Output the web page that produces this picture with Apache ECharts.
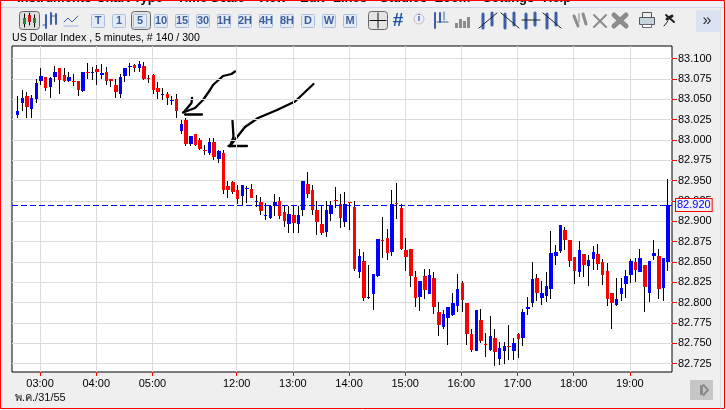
<!DOCTYPE html>
<html>
<head>
<meta charset="utf-8">
<style>html,body{margin:0;padding:0;background:#efefef}#chart{width:726px;height:410px}</style>
<script src="https://cdn.jsdelivr.net/npm/echarts@6/dist/echarts.min.js"></script>
</head>
<body>
<div id="chart"></div>
<script>
// candles, oldest first (blue = up, red = down)
const opens = [83.030,83.045,83.054,83.038,83.050,83.072,83.077,83.065,83.077,83.088,83.080,83.072,83.072,83.072,83.060,83.083,83.083,83.087,83.080,83.083,83.075,83.068,83.057,83.078,83.089,83.092,83.088,83.091,83.076,83.080,83.064,83.055,83.057,83.048,83.050,
  83.011,83.024,82.995,83.007,83.000,82.988,82.984,82.998,82.976,82.984,82.943,82.948,82.938,82.931,82.9405,82.940,82.924,82.924,82.907,82.904,82.919,82.925,82.911,82.897,82.908,82.897,82.914,82.946,82.938,82.914,82.897,82.887,82.909,82.926,82.921,82.899,82.924,
  82.917,82.838,82.851,82.806,82.810,82.833,82.8765,82.879,82.862,82.923,82.916,82.865,82.866,82.832,82.807,82.833,82.811,82.830,82.789,82.770,82.781,82.785,82.796,82.824,82.800,82.761,82.741,82.779,82.749,82.742,82.756,82.731,82.741,82.747,82.741,82.761,82.757,82.792,82.799,82.830,82.806,82.808,82.817,82.857,82.864,82.889,82.877,82.856,82.838,82.860,82.845,82.854,82.860,82.850,82.839,82.812,82.797,82.811,82.823,82.834,82.850,82.838,82.846,82.812,82.857,82.857,82.818,82.850];
const closes = [83.035,83.052,83.040,83.052,83.070,83.078,83.064,83.076,83.084,83.073,83.072,83.077,83.071,83.061,83.083,83.082,83.084,83.083,83.082,83.072,83.072,83.059,83.077,83.088,83.091,83.088,83.093,83.075,83.075,83.061,83.059,83.056,83.052,83.049,83.036,
  83.020,82.995,83.005,82.994,82.989,82.986,82.997,82.979,82.986,82.939,82.939,82.936,82.927,82.945,82.941,82.929,82.925,82.913,82.908,82.919,82.924,82.906,82.900,82.909,82.898,82.908,82.949,82.934,82.914,82.899,82.886,82.914,82.920,82.925,82.904,82.921,82.923,
  82.841,82.857,82.806,82.807,82.835,82.878,82.8755,82.861,82.921,82.922,82.866,82.856,82.833,82.806,82.826,82.815,82.834,82.794,82.772,82.786,82.795,82.799,82.817,82.803,82.762,82.742,82.791,82.753,82.748,82.759,82.739,82.744,82.747,82.745,82.750,82.755,82.789,82.795,82.829,82.812,82.812,82.821,82.861,82.862,82.895,82.877,82.851,82.839,82.865,82.846,82.852,82.862,82.848,82.834,82.805,82.800,82.804,82.818,82.833,82.851,82.840,82.855,82.819,82.851,82.861,82.817,82.855,82.920];
const lows = [83.027,83.036,83.027,83.027,83.045,83.067,83.060,83.052,83.071,83.056,83.071,83.071,83.066,83.054,83.059,83.075,83.073,83.068,83.075,83.068,83.065,83.051,83.052,83.071,83.078,83.083,83.083,83.073,83.070,83.057,83.050,83.049,83.043,83.043,83.027,
  83.007,82.993,82.993,82.993,82.988,82.981,82.981,82.975,82.972,82.934,82.929,82.934,82.921,82.920,82.923,82.929,82.918,82.908,82.902,82.903,82.907,82.903,82.893,82.885,82.885,82.885,82.907,82.929,82.908,82.883,82.883,82.881,82.900,82.9165,82.892,82.893,82.889,
  82.839,82.830,82.802,82.805,82.791,82.832,82.855,82.852,82.857,82.903,82.865,82.839,82.819,82.794,82.790,82.804,82.810,82.786,82.759,82.767,82.748,82.784,82.788,82.788,82.748,82.739,82.740,82.750,82.733,82.740,82.722,82.723,82.724,82.729,82.729,82.732,82.747,82.785,82.794,82.802,82.797,82.801,82.804,82.846,82.861,82.865,82.844,82.823,82.832,82.832,82.821,82.840,82.840,82.822,82.796,82.767,82.796,82.802,82.806,82.824,82.825,82.837,82.789,82.801,82.852,82.805,82.802,82.839];
const highs = [83.054,83.061,83.059,83.055,83.075,83.088,83.077,83.077,83.091,83.088,83.088,83.084,83.081,83.072,83.083,83.094,83.089,83.092,83.093,83.089,83.075,83.075,83.081,83.088,83.094,83.093,83.097,83.096,83.080,83.081,83.071,83.064,83.059,83.054,83.056,
  83.025,83.027,83.005,83.007,83.002,82.994,83.002,83.002,82.988,82.988,82.950,82.950,82.944,82.945,82.943,82.946,82.932,82.930,82.922,82.920,82.934,82.930,82.919,82.919,82.919,82.919,82.949,82.961,82.945,82.925,82.919,82.925,82.925,82.942,82.934,82.936,82.924,
  82.925,82.866,82.862,82.846,82.835,82.878,82.905,82.890,82.939,82.947,82.921,82.879,82.866,82.839,82.827,82.841,82.841,82.837,82.801,82.791,82.795,82.812,82.835,82.827,82.800,82.767,82.791,82.792,82.763,82.784,82.767,82.752,82.752,82.772,82.757,82.763,82.792,82.807,82.850,82.835,82.827,82.838,82.888,82.871,82.895,82.893,82.877,82.856,82.876,82.860,82.859,82.870,82.872,82.854,82.849,82.812,82.830,82.830,82.840,82.854,82.855,82.866,82.846,82.851,82.877,82.866,82.855,82.952];

const hourLabels = ['03:00','04:00','05:00','12:00','13:00','14:00','15:00','16:00','17:00','18:00','19:00'];
const hourCandle = [5,17,29,47,59,71,83,95,107,119,131]; // which candle sits on each hour
const priceTicks = [83.1,83.075,83.05,83.025,83,82.975,82.95,82.925,82.9,82.875,82.85,82.825,82.8,82.775,82.75,82.725];
const lastPrice = 82.92;
const titleText = 'US Dollar Index , 5 minutes, # 140 / 300';
const dateText = 'พ.ค./31/55';
const menuItems = [['Instruments',17],['Chart Type',96],['Time Scale',177],['View',257],['Edit',300],['Lines',333],['Studies',380],['Zoom',435],['Settings',483],['Help',543]];
const periodButtons = ['T','1','5','10','15','30','1H','2H','4H','8H','D','W','M'];

// one empty slot each side so the first and last candle stay off the frame
const categories = ['', ...opens.map(() => ''), ''];
hourCandle.forEach((k, i) => { categories[k + 1] = hourLabels[i]; });
const candles = opens.map((o, k) => [k + 1, o, closes[k], lows[k], highs[k]]);
const isHour = (i, v) => v !== '';

function renderCandle(params, api) {
  const xf = api.coord([api.value(0), 0])[0] + 0.15;
  const x = Math.round(xf);
  const o = api.value(1), c = api.value(2);
  const yHigh = Math.round(api.coord([0, api.value(4)])[1]);
  const yLow = Math.round(api.coord([0, api.value(3)])[1]);
  const yTop = Math.round(api.coord([0, Math.max(o, c)])[1]);
  const yBot = Math.round(api.coord([0, Math.min(o, c)])[1]);
  // bodies come out 3 or 4 px wide depending on where the candle falls
  const bodyW = Math.round(xf + 1.5) - x + 2;
  return {
    type: 'group',
    children: [
      { type: 'rect', shape: { x: x, y: yHigh, width: 1, height: Math.max(yLow - yHigh, 1) }, style: { fill: '#000' } },
      { type: 'rect', shape: { x: x - 1, y: yTop, width: bodyW, height: Math.max(yBot - yTop, 1) }, style: { fill: c >= o ? '#0000ff' : '#ff0000' } }
    ]
  };
}

// small drawing helpers for the toolbar and the pen marks
const ln = (pts, color, w) => ({ type: 'polyline', shape: { points: pts }, style: { stroke: color, lineWidth: w || 1, fill: null, lineCap: 'round', lineJoin: 'round' } });
const box = (x, y, w, h, fill, stroke, r) => ({ type: 'rect', shape: { x, y, width: w, height: h, r: r || 0 }, style: { fill: fill, stroke: stroke || null, lineWidth: 1 } });
const txt = (x, y, s, font, color, align) => ({ type: 'text', x, y, style: { text: s, font: font, fill: color, align: align || 'center', verticalAlign: 'middle' } });

const BLUE = '#3c5fa8', GREY = '#8c8c8c';
const gfx = [];
gfx.push(box(0.5, 0.5, 725, 7, '#f1f1f8'), ln([[1, 7.5], [724, 7.5]], '#d4d4e6'));
menuItems.forEach(m => gfx.push({ type: 'text', x: m[1], y: 5, style: { text: m[0], font: 'bold 13px "Liberation Sans"', fill: '#111', verticalAlign: 'bottom' } }));

// chart type buttons
gfx.push(box(19.5, 11.5, 20, 18, '#dedede', '#666', 3));
gfx.push(ln([[24.5, 14], [24.5, 27]], '#000'), box(23, 18, 3, 6, '#1f8a3a'), ln([[29.5, 13], [29.5, 25]], '#000'), box(28, 15, 3, 7, '#d01818'), ln([[34.5, 15], [34.5, 27]], '#000'), box(33, 18, 3, 5, '#1f8a3a'));
gfx.push(ln([[46, 15], [46, 28]], BLUE, 2), ln([[43, 25], [46, 25]], BLUE), ln([[51, 13], [51, 24]], BLUE, 2), ln([[51, 16], [56, 16]], BLUE), ln([[56, 14], [56, 24]], BLUE, 2));
gfx.push(ln([[64, 22], [68, 18], [72, 22], [78, 16]], BLUE, 1), ln([[64, 26], [78, 26]], '#9fb6d8'));

// period buttons
periodButtons.forEach((b, i) => {
  const cx = 98 + i * 21;
  if (b === '5') gfx.push(box(131.5, 11.5, 19, 18, '#e4e4e4', '#666', 3));
  gfx.push(box(cx - 6.5, 14.5, 13, 13, '#e3ebf6', '#a9bfdc', 1));
  gfx.push(txt(cx, 21, b, 'bold 11px "Liberation Sans"', '#3f5f98'));
});

// crosshair, grid and the other tool icons
gfx.push(box(368.5, 11.5, 19, 18, '#e4e4e4', '#666', 3), ln([[378, 13], [378, 28]], '#111'), ln([[370, 20.5], [386, 20.5]], '#111'));
gfx.push(txt(398, 21, '#', 'bold 19px "Liberation Sans"', '#1c4fa8'));
gfx.push({ type: 'circle', shape: { cx: 419, cy: 19, r: 5 }, style: { fill: '#eef', stroke: '#c0c0c0' } }, txt(419, 19, 'i', 'bold 9px "Liberation Sans"', '#2a55c0'));
gfx.push(ln([[435, 13], [435, 28]], BLUE, 2), ln([[440, 13], [440, 22]], BLUE, 2), ln([[437, 22], [448, 22]], BLUE, 1), ln([[444, 12], [444, 20]], BLUE, 1));
[455, 459, 463, 467].forEach((x, i) => gfx.push(box(x, [23, 19, 21, 17][i], 3, [5, 9, 7, 11][i], GREY)));
[[488, 1], [510, -1], [531, 0], [552, -1]].forEach(d => {
  const x = d[0];
  gfx.push(ln([[x - 5, 14], [x - 5, 28]], BLUE, 3), ln([[x + 4, 13], [x + 4, 25]], BLUE, 3));
  if (d[1] === 1) gfx.push(ln([[x - 9, 28], [x + 9, 13]], '#222', 1));
  else if (d[1] === -1) gfx.push(ln([[x - 9, 13], [x + 9, 28]], '#222', 1));
  else gfx.push(ln([[x - 9, 20], [x + 9, 20]], '#222', 1));
});
gfx.push(ln([[574, 16], [578, 26]], GREY, 3), ln([[583, 14], [586, 24]], GREY, 3), ln([[579, 14], [579, 22]], '#bbb', 2));
gfx.push(ln([[594, 15], [606, 27]], GREY, 2), ln([[606, 15], [594, 27]], GREY, 2));
gfx.push(ln([[614, 15], [626, 26]], GREY, 5), ln([[626, 15], [614, 26]], GREY, 5));
gfx.push(box(642.5, 12.5, 9, 5, '#eee', '#555'), box(639.5, 17.5, 15, 7, '#c8d4dc', '#556'), box(642.5, 24.5, 9, 3, '#fff', '#667'));
gfx.push(ln([[664, 26], [668, 21]], '#222', 1), ln([[666, 15], [674, 22]], '#222', 2), ln([[667, 19], [672, 16]], '#222', 3));
gfx.push(box(696, 10, 25, 22, '#dbe3f2'), txt(707, 21, '»', '16px "Liberation Sans"', '#333'));

// bottom left date, bottom right scroll button
gfx.push(txt(15, 398, dateText, '11px "Liberation Sans","Noto Sans","DejaVu Sans"', '#111', 'left'));
gfx.push(box(690, 380, 23, 20, '#c6c6c6'), box(700, 385, 3, 10, '#8a8a8a'), ln([[703.5, 385], [708, 390], [703.5, 395]], '#8a8a8a', 2));

// pen marks drawn on the screenshot by hand
const PEN = '#000';
gfx.push(ln([[235, 71.5], [231.5, 74], [223, 76], [213, 85], [210, 90], [203, 100], [195, 108], [183, 112.5]], PEN, 2.3));
gfx.push(ln([[192, 98], [191.5, 103], [184, 112]], PEN, 2.3), ln([[185, 114.5], [202, 114.5]], PEN, 2.3));
gfx.push(ln([[313.5, 84], [295, 101.5], [277, 110], [258, 118], [245, 127], [230, 146]], PEN, 2.3));
gfx.push(ln([[232.5, 121], [233.5, 137], [230, 146]], PEN, 2.3), ln([[228.5, 146], [247, 146]], PEN, 2.3));

// red page frame, last so it sits over everything
gfx.push(ln([[0.5, 0.5], [724.5, 0.5], [724.5, 408.5], [0.5, 408.5], [0.5, 0.5]], '#ff0000', 1));
gfx.push(ln([[720.5, 8], [720.5, 408]], '#dcdcdc', 1));

const chart = echarts.init(document.getElementById('chart'));
chart.setOption({
  animation: false,
  backgroundColor: '#efefef',
  textStyle: { fontFamily: '"Liberation Sans"' },
  title: { text: titleText, left: 12, top: 33, padding: 0, textStyle: { fontSize: 10.6, fontWeight: 'normal', color: '#000' } },
  grid: { left: 12, right: 54, top: 46, bottom: 38, show: true, backgroundColor: '#fff', borderColor: '#000', borderWidth: 1 },
  xAxis: {
    type: 'category',
    data: categories,
    boundaryGap: false,
    axisLine: { show: false },
    axisTick: { show: true, interval: isHour, length: 4, lineStyle: { color: '#ff0000' } },
    axisLabel: { interval: isHour, color: '#000', fontSize: 11, margin: 6 },
    splitLine: { show: true, interval: isHour, lineStyle: { color: '#dcdcdc', width: 1 } }
  },
  yAxis: {
    type: 'value',
    position: 'right',
    min: 82.7147,
    max: 83.1154,
    axisLine: { show: false },
    axisTick: { show: true, customValues: priceTicks, length: 5, lineStyle: { color: '#ff0000' } },
    axisLabel: { customValues: priceTicks, color: '#000', fontSize: 11, margin: 6, formatter: v => v.toFixed(3) },
    splitLine: { show: true, lineStyle: { color: '#dcdcdc', width: 1 } }
  },
  series: [{
    type: 'custom',
    renderItem: renderCandle,
    encode: { x: 0, y: [1, 2, 3, 4] },
    data: candles,
    silent: true,
    markLine: {
      silent: true,
      symbol: 'none',
      data: [{ yAxis: lastPrice }],
      lineStyle: { color: '#0000ff', type: [6, 3], width: 1 },
      label: {
        position: 'end', distance: 4, formatter: lastPrice.toFixed(3), color: '#0000ff', fontSize: 11,
        backgroundColor: '#efefef', borderColor: '#ff0000', borderWidth: 1, padding: [1, 1, 0, 1]
      }
    }
  }],
  graphic: { elements: gfx }
});
</script>
</body>
</html>
